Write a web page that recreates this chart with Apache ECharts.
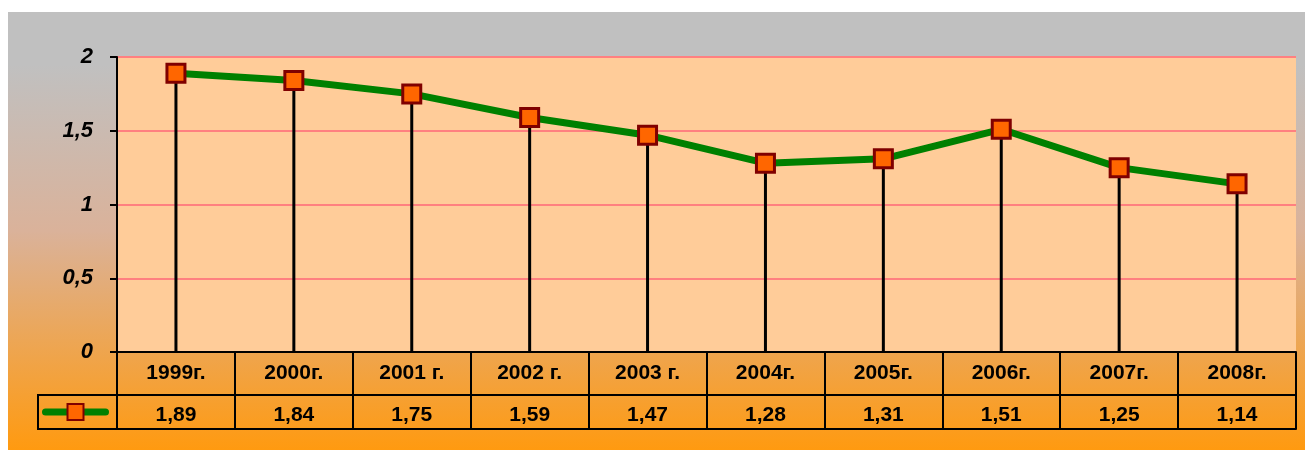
<!DOCTYPE html>
<html>
<head>
<meta charset="utf-8">
<script src="https://cdn.jsdelivr.net/npm/echarts@6/dist/echarts.min.js"></script>
<style>
  html, body { margin: 0; padding: 0; background: #fff; }
  #main { width: 1307px; height: 450px; }
</style>
</head>
<body>
<div id="main"></div>
<script>
  var myChart = echarts.init(document.getElementById('main'));

  // данные по годам
  const years = ['1999г.', '2000г.', '2001 г.', '2002 г.', '2003 г.', '2004г.', '2005г.', '2006г.', '2007г.', '2008г.'];
  const values = [1.89, 1.84, 1.75, 1.59, 1.47, 1.28, 1.31, 1.51, 1.25, 1.14];
  const valueText = values.map(v => v.toFixed(2).replace('.', ','));

  // положение области графика
  const gridLeft = 117, gridTop = 57, gridRight = 11, gridBottom = 98;
  const axisY = 450 - gridBottom;

  myChart.setOption({
    animation: false,
    graphic: [
      {
        type: 'rect',
        z: -100,
        silent: true,
        shape: { x: 8, y: 12, width: 1297, height: 438 },
        style: {
          fill: new echarts.graphic.LinearGradient(0, 0, 0, 1, [
            { offset: 0, color: '#C0C0C0' },
            { offset: 0.12, color: '#C0C0C0' },
            { offset: 0.5, color: '#DAB29A' },
            { offset: 1, color: '#FF9A10' }
          ])
        }
      },
      {
        // ячейка легенды в таблице
        type: 'rect',
        z: 10,
        silent: true,
        shape: { x: 38, y: axisY + 43, width: gridLeft - 38, height: 34 },
        style: { fill: 'none', stroke: '#000', lineWidth: 2 }
      }
    ],
    grid: {
      left: gridLeft,
      right: gridRight,
      top: gridTop,
      bottom: gridBottom,
      show: true,
      backgroundColor: '#FFCC99',
      borderWidth: 0
    },
    legend: {
      data: ['ряд1'],
      left: 42,
      top: axisY + 50,
      padding: 0,
      itemGap: 0,
      itemWidth: 60,
      itemHeight: 20,
      formatter: () => '',
      selectedMode: false,
      lineStyle: { width: 7, cap: 'round' }
    },
    xAxis: [
      {
        type: 'category',
        data: years,
        position: 'bottom',
        axisLine: { lineStyle: { color: '#000', width: 2 } },
        axisTick: { show: true, length: 77, interval: 0, lineStyle: { color: '#000', width: 2 } },
        axisLabel: {
          interval: 0,
          margin: 11,
          color: '#000',
          fontFamily: 'Arial',
          fontWeight: 'bold',
          fontSize: 21
        }
      },
      {
        type: 'category',
        data: valueText,
        position: 'bottom',
        offset: 43,
        axisLine: { lineStyle: { color: '#000', width: 2 } },
        axisTick: { show: false },
        axisLabel: {
          interval: 0,
          margin: 10,
          color: '#000',
          fontFamily: 'Arial',
          fontWeight: 'bold',
          fontSize: 21
        }
      },
      {
        type: 'category',
        data: valueText,
        position: 'bottom',
        offset: 77,
        axisLine: { lineStyle: { color: '#000', width: 2 } },
        axisTick: { show: false },
        axisLabel: { show: false }
      }
    ],
    yAxis: {
      type: 'value',
      min: 0,
      max: 2,
      interval: 0.5,
      axisLine: { show: true, lineStyle: { color: '#000', width: 2 } },
      axisTick: { show: true, length: 7, lineStyle: { color: '#000', width: 2 } },
      axisLabel: {
        margin: 24,
        color: '#000',
        fontFamily: 'Arial',
        fontWeight: 'bold',
        fontStyle: 'italic',
        fontSize: 22,
        formatter: v => String(v).replace('.', ',')
      },
      splitLine: { lineStyle: { color: '#FF8080', width: 2 } }
    },
    series: [
      {
        // вертикальные линии от точек к оси
        name: 'линии',
        type: 'bar',
        barWidth: 3,
        data: values,
        itemStyle: { color: '#000' },
        z: 1
      },
      {
        name: 'ряд1',
        type: 'line',
        data: values,
        symbol: 'rect',
        symbolSize: 18,
        lineStyle: { color: '#008000', width: 7 },
        itemStyle: { color: '#FF6600', borderColor: '#800000', borderWidth: 3 },
        z: 3
      }
    ]
  });
</script>
</body>
</html>
